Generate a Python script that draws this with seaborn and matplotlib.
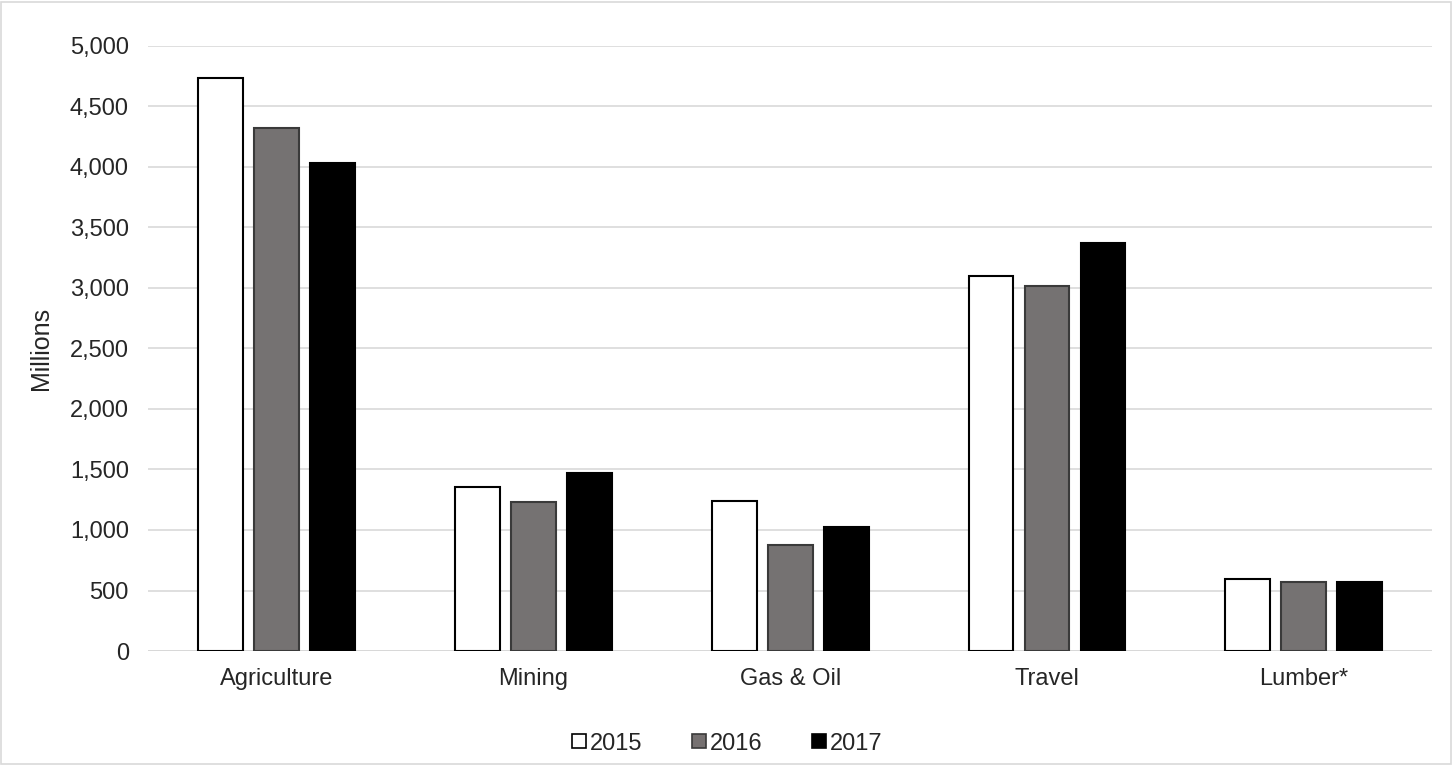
import pandas as pd
import matplotlib.pyplot as plt
import seaborn as sns
from matplotlib.patches import Rectangle, Patch

# values (millions)
sectors = ['Agriculture', 'Mining', 'Gas & Oil', 'Travel', 'Lumber*']
years = ['2015', '2016', '2017']
v2015 = [4737, 1356, 1240, 3100, 592]
v2016 = [4325, 1229, 876, 3017, 567]
v2017 = [4033, 1472, 1025, 3368, 573]

fills = ['#ffffff', '#767171', '#000000']
edges = ['#000000', '#3a3a3a', '#000000']

df = pd.DataFrame({'Sector': sectors * 3,
                   'Year': [y for y in years for _ in sectors],
                   'Value': v2015 + v2016 + v2017})

sns.set_style('white')
plt.rcParams['font.family'] = ['Liberation Sans', 'DejaVu Sans']

fig, ax = plt.subplots(figsize=(14.54, 7.65), dpi=100)
fig.subplots_adjust(left=0.102, right=0.985, top=0.94, bottom=0.149)

sns.barplot(data=df, x='Sector', y='Value', hue='Year', palette=fills,
            width=0.654, gap=0.2, ax=ax, legend=False)

for i, cont in enumerate(ax.containers):
    for bar in cont:
        bar.set_edgecolor(edges[i])
        bar.set_linewidth(1.5)

fs = 17
ax.set_ylim(0, 5000)
ax.set_yticks(range(0, 5001, 500))
ax.set_yticklabels([f'{t:,}' for t in range(0, 5001, 500)], fontsize=fs)
ax.tick_params(axis='x', labelsize=fs, length=0, pad=12)
ax.tick_params(axis='y', length=0, pad=14)
ax.yaxis.grid(True, color='#d9d9d9', linewidth=1.2)
ax.set_axisbelow(True)
for s in ax.spines.values():
    s.set_visible(False)
ax.axhline(0, color='#d0d0d0', linewidth=1.2, zorder=0.5)
ax.set_xlabel('')
ax.set_ylabel('Millions', fontsize=18, labelpad=12)

handles = [Patch(facecolor=fills[i], edgecolor=edges[i], linewidth=1.2) for i in range(3)]
fig.legend(handles, years, loc='center', bbox_to_anchor=(0.5, 0.028), ncol=3,
           frameon=False, fontsize=fs, handlelength=0.6, handleheight=0.5,
           handletextpad=0.15, columnspacing=2.1)

fig.patches.append(Rectangle((0.001, 0.001), 0.997, 0.997, transform=fig.transFigure,
                             fill=False, edgecolor='#d9d9d9', linewidth=1.2))

fig.savefig('out.png', dpi=100)
